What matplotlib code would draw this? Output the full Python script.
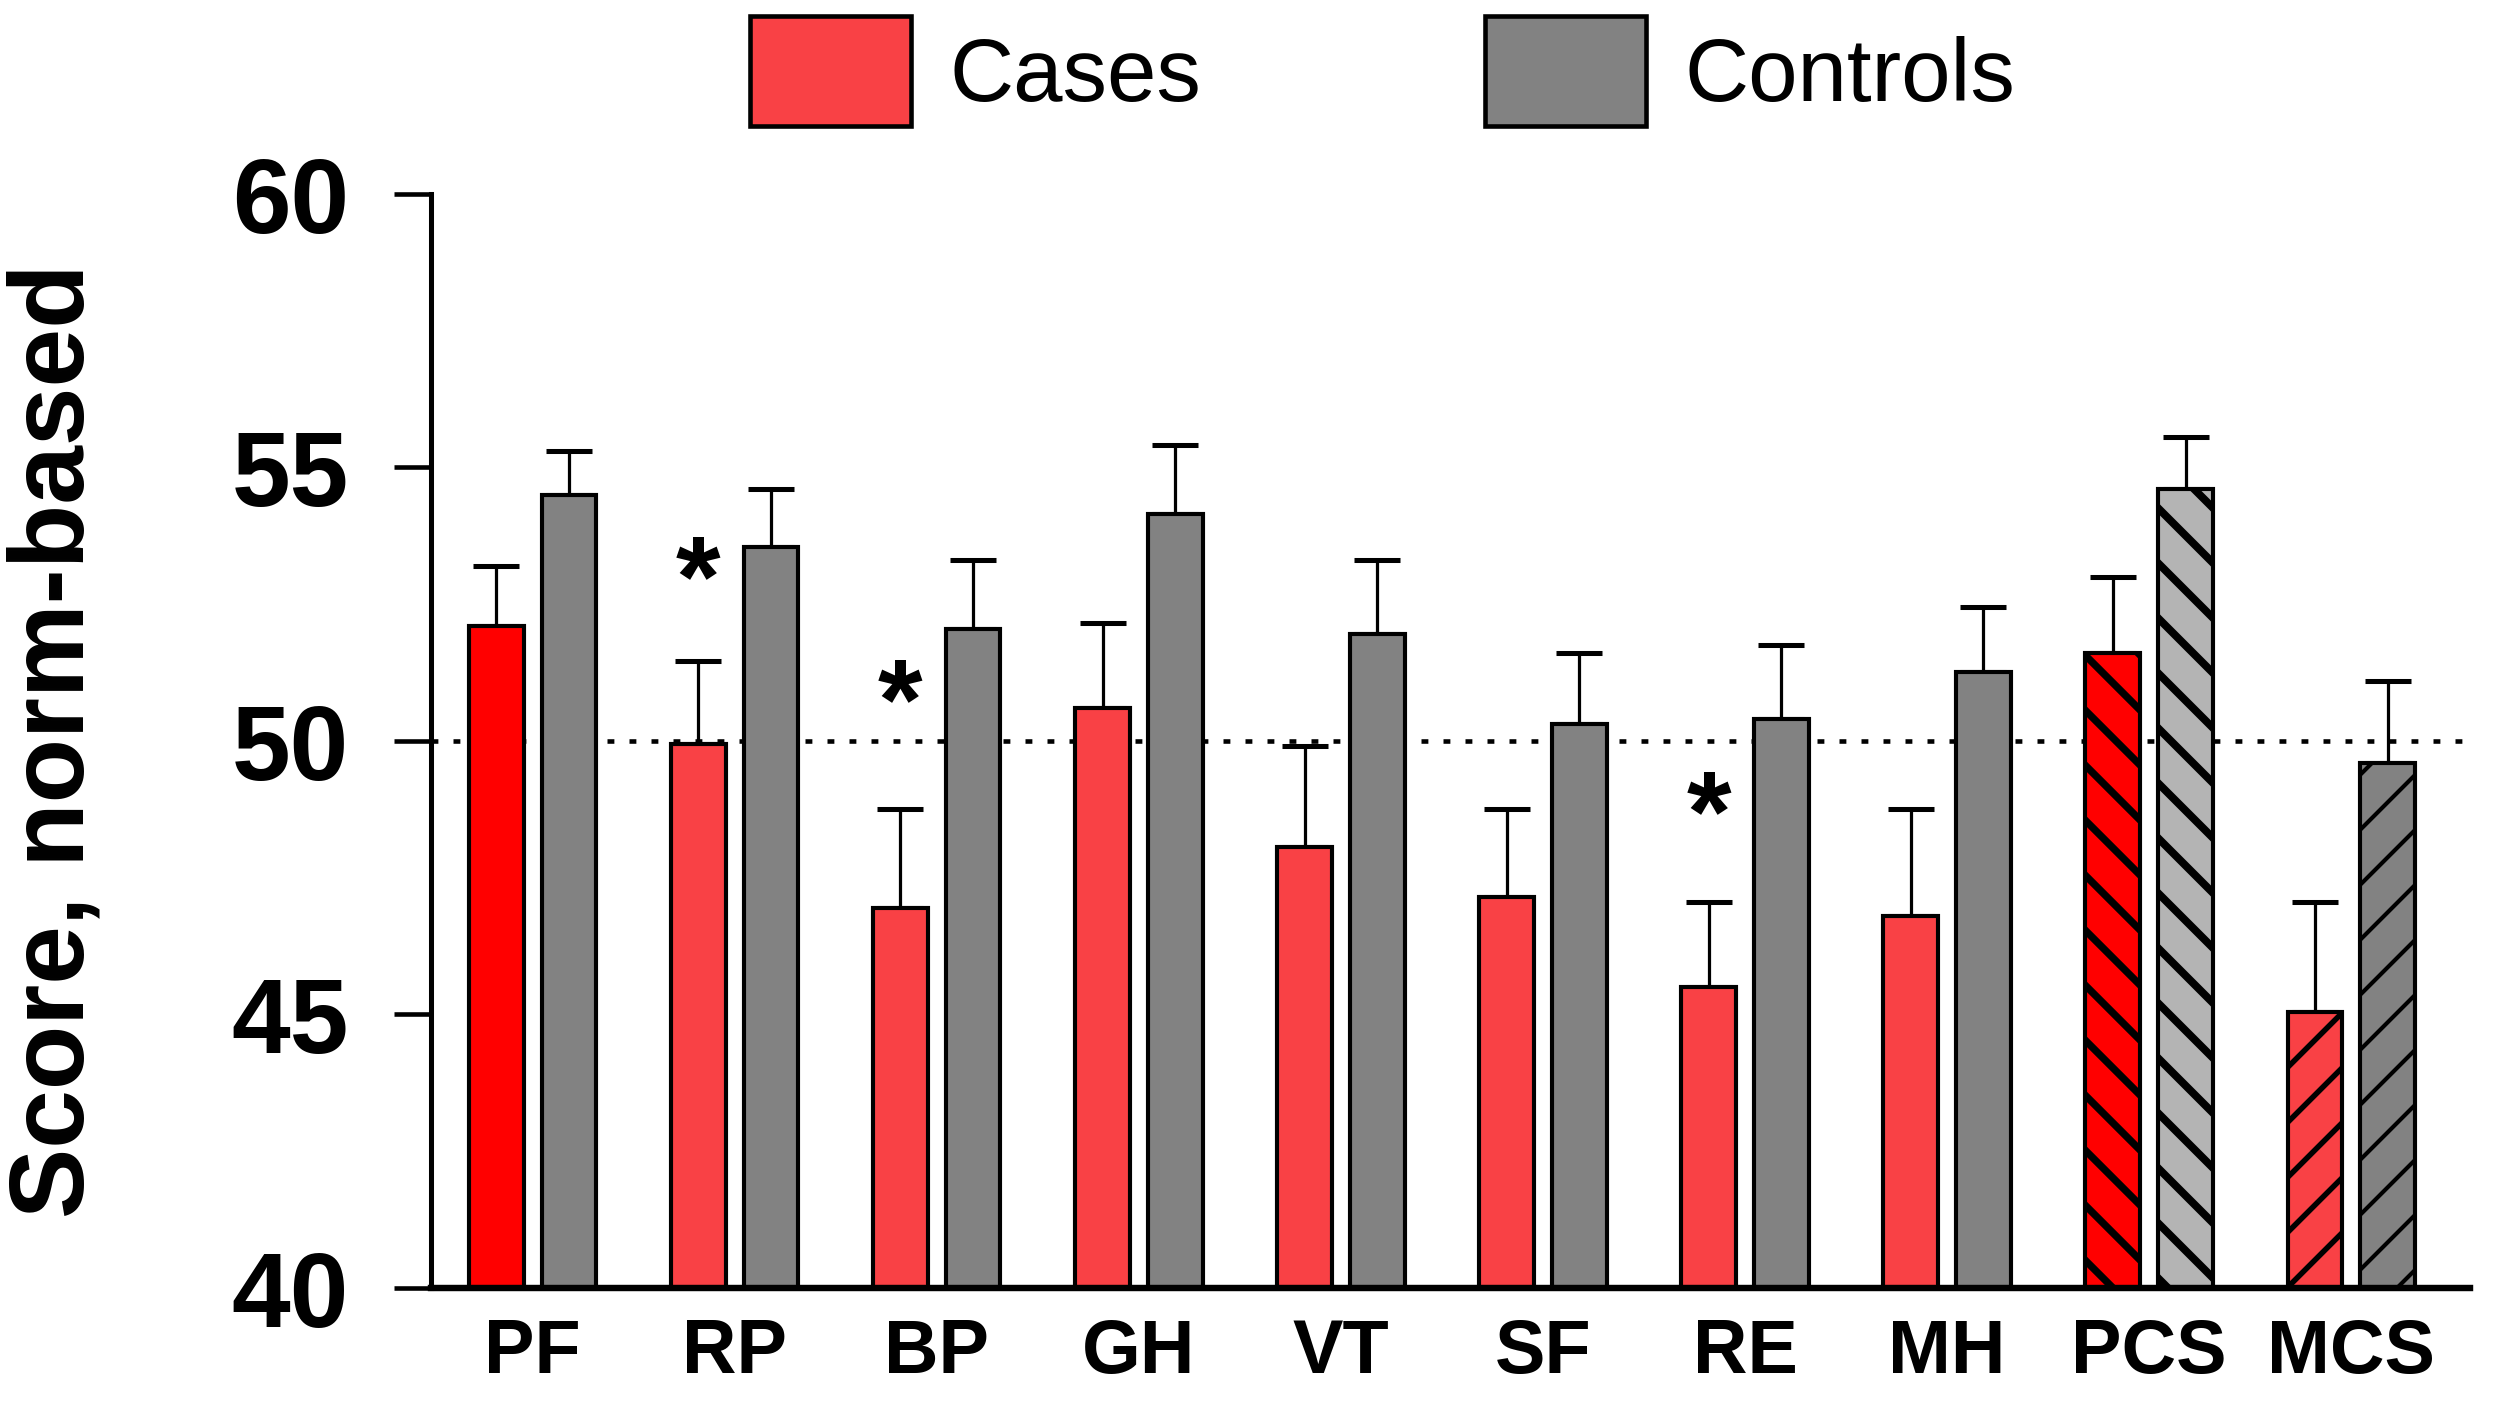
import matplotlib
matplotlib.use("Agg")
import matplotlib.pyplot as plt
from matplotlib.patches import Patch
import numpy as np

categories = ["PF", "RP", "BP", "GH", "VT", "SF", "RE", "MH", "PCS", "MCS"]
cases_mean = [52.1, 49.95, 46.95, 50.6, 48.05, 47.15, 45.5, 46.8, 51.6, 45.05]
cases_err = [1.1, 1.5, 1.8, 1.55, 1.85, 1.6, 1.55, 1.95, 1.4, 2.0]
controls_mean = [54.5, 53.55, 52.05, 54.15, 51.95, 50.3, 50.4, 51.25, 54.6, 49.6]
controls_err = [0.8, 1.05, 1.25, 1.25, 1.35, 1.3, 1.35, 1.2, 0.95, 1.5]
star_cats = ["RP", "BP", "RE"]
star_y = [52.85, 50.6, 48.55]

RED = "#f94145"
GREY = "#828282"
cases_colors = ["#ff0000"] + [RED] * 7 + ["#ff0000", RED]
controls_colors = [GREY] * 8 + ["#b4b4b4", GREY]
cases_hatch = [""] * 8 + ["\\", "/"]
controls_hatch = [""] * 8 + ["\\", "/"]
hatch_lw = {("cases", 8): 3.2, ("controls", 8): 3.4, ("cases", 9): 2.4, ("controls", 9): 1.8}

plt.rcParams["font.family"] = ["Liberation Sans", "DejaVu Sans"]
plt.rcParams["hatch.linewidth"] = 2.8

DPI = 165
fig = plt.figure(figsize=(2500.4 / DPI, 1401.4 / DPI), dpi=DPI)
ax = fig.add_axes([0.1725, 0.0807, 0.8155, 0.7808])

x = np.arange(len(categories))
w = 0.27
off = 0.18

ax.axhline(50, color="black", linestyle=(0, (1.5, 3.3)), linewidth=2.0, zorder=0)

b1 = ax.bar(x - off, np.array(cases_mean) - 40, w, bottom=40, color=cases_colors,
            edgecolor="black", linewidth=1.8, zorder=2)
b2 = ax.bar(x + off, np.array(controls_mean) - 40, w, bottom=40, color=controls_colors,
            edgecolor="black", linewidth=1.8, zorder=2)
for name, bars, hatches in (("cases", b1, cases_hatch), ("controls", b2, controls_hatch)):
    for i, (p, h) in enumerate(zip(bars, hatches)):
        if h:
            p.set_hatch(h)
            try:
                p.set_hatch_linewidth(hatch_lw[(name, i)])
            except AttributeError:
                pass

zeros = np.zeros(len(categories))
ax.errorbar(x - off, cases_mean, yerr=[zeros, cases_err], fmt="none", ecolor="black",
            elinewidth=1.4, capsize=10, capthick=2.2, zorder=1)
ax.errorbar(x + off, controls_mean, yerr=[zeros, controls_err], fmt="none", ecolor="black",
            elinewidth=1.4, capsize=10, capthick=2.2, zorder=1)

for c, yy in zip(star_cats, star_y):
    ax.text(categories.index(c) - off, yy, "*", ha="center", va="center",
            fontsize=50, fontweight="bold")

ax.set_ylim(40, 60)
ax.set_xlim(-0.502, 9.59)
ax.set_yticks([40, 45, 50, 55, 60])
ax.set_xticks(x)
ax.set_xticklabels(categories, fontsize=33, fontweight="bold")
ax.tick_params(axis="x", length=0, pad=13)
ax.tick_params(axis="y", length=16, width=2.0, pad=20, labelsize=46)
for lab in ax.get_yticklabels():
    lab.set_fontweight("bold")
ax.spines["top"].set_visible(False)
ax.spines["right"].set_visible(False)
ax.spines["left"].set_linewidth(2.2)
ax.spines["bottom"].set_linewidth(2.8)
ax.set_ylabel("Score, norm-based", fontsize=46, fontweight="bold", labelpad=55)

handles = [Patch(facecolor=RED, edgecolor="black", linewidth=2.0, label="Cases"),
           Patch(facecolor=GREY, edgecolor="black", linewidth=2.0, label="Controls")]
fig.legend(handles=handles, loc="upper center", bbox_to_anchor=(0.553, 1.02), ncol=2,
           frameon=False, fontsize=38.8, handlelength=1.81, handleheight=1.52,
           handletextpad=0.43, columnspacing=3.2, borderaxespad=0.1)

fig.savefig("out.png", dpi=DPI)
